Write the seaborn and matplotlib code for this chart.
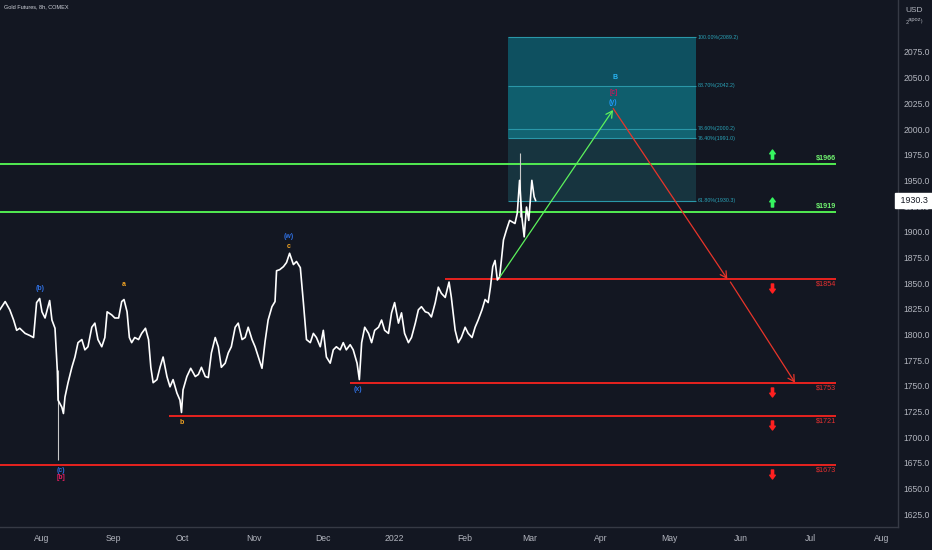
import matplotlib
matplotlib.use("Agg")
import matplotlib.pyplot as plt
from matplotlib.path import Path
from matplotlib.transforms import offset_copy, blended_transform_factory
import seaborn as sns
import pandas as pd
import numpy as np

# ---------------- data ----------------
dates = [
    "2021-07-13 16:00", "2021-07-16 00:00", "2021-07-18 00:00", "2021-07-19 16:00", "2021-07-21 00:00",
    "2021-07-22 08:00", "2021-07-24 16:00", "2021-07-26 16:00", "2021-07-28 08:00", "2021-07-29 16:00",
    "2021-07-31 00:00", "2021-08-01 00:00", "2021-08-02 08:00", "2021-08-04 08:00", "2021-08-05 08:00",
    "2021-08-06 16:00", "2021-08-07 16:00", "2021-08-08 00:00", "2021-08-09 16:00", "2021-08-10 08:00",
    "2021-08-11 00:00", "2021-08-12 08:00", "2021-08-14 00:00", "2021-08-15 08:00", "2021-08-16 16:00",
    "2021-08-18 08:00", "2021-08-19 16:00", "2021-08-21 00:00", "2021-08-22 16:00", "2021-08-24 00:00",
    "2021-08-25 08:00", "2021-08-27 00:00", "2021-08-28 08:00", "2021-08-29 08:00", "2021-08-31 08:00",
    "2021-09-01 16:00", "2021-09-03 08:00", "2021-09-04 16:00", "2021-09-05 16:00", "2021-09-07 00:00",
    "2021-09-08 00:00", "2021-09-09 00:00", "2021-09-10 08:00", "2021-09-12 00:00", "2021-09-13 08:00",
    "2021-09-15 00:00", "2021-09-16 08:00", "2021-09-17 08:00", "2021-09-18 08:00", "2021-09-20 00:00",
    "2021-09-21 08:00", "2021-09-22 16:00", "2021-09-24 08:00", "2021-09-25 16:00", "2021-09-27 00:00",
    "2021-09-28 16:00", "2021-09-30 00:00", "2021-09-30 16:00", "2021-10-01 08:00", "2021-10-03 00:00",
    "2021-10-04 16:00", "2021-10-06 16:00", "2021-10-08 00:00", "2021-10-09 08:00", "2021-10-11 00:00",
    "2021-10-12 08:00", "2021-10-13 16:00", "2021-10-15 08:00", "2021-10-16 16:00", "2021-10-18 00:00",
    "2021-10-19 16:00", "2021-10-21 00:00", "2021-10-22 08:00", "2021-10-24 00:00", "2021-10-25 08:00",
    "2021-10-27 00:00", "2021-10-28 08:00", "2021-10-29 16:00", "2021-10-31 08:00", "2021-11-01 16:00",
    "2021-11-04 16:00", "2021-11-06 00:00", "2021-11-07 08:00", "2021-11-09 00:00", "2021-11-10 08:00",
    "2021-11-11 00:00", "2021-11-12 08:00", "2021-11-14 00:00", "2021-11-15 08:00", "2021-11-16 16:00",
    "2021-11-18 08:00", "2021-11-19 16:00", "2021-11-21 08:00", "2021-11-22 16:00", "2021-11-24 00:00",
    "2021-11-25 16:00", "2021-11-27 00:00", "2021-11-28 08:00", "2021-11-30 00:00", "2021-12-01 08:00",
    "2021-12-02 16:00", "2021-12-04 08:00", "2021-12-05 16:00", "2021-12-07 00:00", "2021-12-08 16:00",
    "2021-12-10 00:00", "2021-12-11 08:00", "2021-12-13 00:00", "2021-12-14 08:00", "2021-12-16 00:00",
    "2021-12-17 00:00", "2021-12-18 00:00", "2021-12-19 08:00", "2021-12-21 00:00", "2021-12-22 08:00",
    "2021-12-23 16:00", "2021-12-25 08:00", "2021-12-26 16:00", "2021-12-28 00:00", "2021-12-29 16:00",
    "2021-12-31 00:00", "2022-01-01 08:00", "2022-01-03 00:00", "2022-01-04 08:00", "2022-01-05 16:00",
    "2022-01-07 08:00", "2022-01-08 16:00", "2022-01-10 08:00", "2022-01-11 16:00", "2022-01-13 00:00",
    "2022-01-14 16:00", "2022-01-16 00:00", "2022-01-17 08:00", "2022-01-19 00:00", "2022-01-20 08:00",
    "2022-01-21 16:00", "2022-01-23 08:00", "2022-01-25 00:00", "2022-01-26 00:00", "2022-01-27 16:00",
    "2022-01-29 00:00", "2022-01-30 08:00", "2022-02-01 00:00", "2022-02-02 08:00", "2022-02-04 00:00",
    "2022-02-05 08:00", "2022-02-06 16:00", "2022-02-08 08:00", "2022-02-09 16:00", "2022-02-11 00:00",
    "2022-02-12 00:00", "2022-02-13 00:00", "2022-02-14 00:00", "2022-02-15 00:00", "2022-02-16 00:00",
    "2022-02-17 16:00", "2022-02-19 00:00", "2022-02-20 08:00", "2022-02-22 16:00", "2022-02-23 16:00",
    "2022-02-24 16:00", "2022-02-25 16:00", "2022-02-26 16:00", "2022-02-27 16:00", "2022-02-28 16:00",
    "2022-03-02 00:00", "2022-03-03 00:00", "2022-03-03 16:00",
]
closes = [
    1824, 1832, 1824, 1814, 1804, 1806, 1801, 1799, 1797, 1831,
    1835, 1822, 1816, 1833, 1814, 1806, 1765, 1736, 1729, 1723,
    1739, 1753, 1768, 1778, 1792, 1795, 1785, 1788, 1807, 1811,
    1795, 1788, 1797, 1822, 1819, 1816, 1816, 1832, 1834, 1822,
    1797, 1792, 1797, 1795, 1801, 1806, 1795, 1768, 1753, 1756,
    1768, 1778, 1759, 1749, 1756, 1743, 1736, 1724, 1746, 1759,
    1767, 1759, 1761, 1768, 1759, 1758, 1782, 1797, 1788, 1768,
    1772, 1782, 1788, 1807, 1811, 1795, 1797, 1807, 1795, 1788,
    1767, 1793, 1814, 1827, 1832, 1862, 1863, 1866, 1870, 1879,
    1868, 1871, 1865, 1831, 1795, 1792, 1801, 1797, 1788, 1804,
    1778, 1772, 1785, 1788, 1785, 1792, 1785, 1790, 1785, 1772,
    1756, 1792, 1807, 1801, 1792, 1804, 1807, 1814, 1804, 1801,
    1821, 1831, 1811, 1821, 1801, 1792, 1797, 1811, 1824, 1827,
    1822, 1821, 1817, 1831, 1846, 1840, 1836, 1851, 1836, 1804,
    1792, 1797, 1807, 1801, 1797, 1807, 1814, 1824, 1834, 1831,
    1846, 1866, 1872, 1853, 1856, 1892, 1902, 1911, 1908, 1918,
    1950, 1914, 1895, 1924, 1911, 1950, 1934, 1930.3,
]
wick_dates = ["2021-08-08 00:00", "2022-02-24 16:00"]
wick_lows = [1678, 1914]
wick_highs = [1765, 1977]

fib_start = "2022-02-19 14:00"
fib_end = "2022-05-12 07:00"
fib_pcts = ["100.00%", "88.70%", "78.60%", "76.40%", "61.80%"]
fib_prices = [2089.2, 2042.2, 2000.2, 1991.0, 1930.3]
fib_fills = ["#0e5060", "#0f5e6d", "#126472", "#17343f"]

level_prices = [1966, 1919, 1854, 1753, 1721, 1673]
level_starts = ["2021-07-01", "2021-07-01", "2022-01-23 05:00",
                "2021-12-12 22:00", "2021-09-25 05:00", "2021-07-01"]
level_end = "2022-07-12 05:00"
level_dirs = ["up", "up", "down", "down", "down", "down"]
arrow_date = "2022-06-14 12:00"

wave_texts = ["B", "[c]", "(y)", "(b)", "a", "(w)", "c", "(x)", "b", "(c)", "[b]"]
wave_dates = ["2022-04-07 02:00", "2022-04-06 12:00", "2022-04-06 08:00", "2021-07-31 03:00",
              "2021-09-05 16:00", "2021-11-16 10:00", "2021-11-16 10:00", "2021-12-16 10:00",
              "2021-09-30 21:00", "2021-08-09 06:00", "2021-08-09 06:00"]
wave_prices = [2049.7, 2036.0, 2025.7, 1845.0, 1849.0, 1895.0, 1886.0, 1746.8, 1714.6, 1667.9, 1661.0]
wave_colors = ["#29b6f6", "#c2185b", "#2196f3", "#2f6fe0", "#f5a623", "#2f6fe0", "#f5a623",
               "#2f6fe0", "#f5a623", "#2f6fe0", "#e91e63"]

proj_dates = [["2022-02-16 03:00", "2022-04-06 07:00"],
              ["2022-04-06 09:00", "2022-05-26 00:00"],
              ["2022-05-27 08:00", "2022-06-24 10:00"]]
proj_prices = [[1856, 2018.5], [2020.0, 1854], [1851, 1753]]
proj_colors = ["#5cf25c", "#e8352a", "#e8352a"]

month_ticks = ["2021-08-01", "2021-09-01", "2021-10-01", "2021-11-01", "2021-12-01", "2022-01-01",
               "2022-02-01", "2022-03-01", "2022-04-01", "2022-05-01", "2022-06-01", "2022-07-01",
               "2022-08-01"]
month_labels = ["Aug", "Sep", "Oct", "Nov", "Dec", "2022", "Feb", "Mar", "Apr", "May", "Jun", "Jul", "Aug"]
price_ticks = list(range(1625, 2076, 25))
last_price = 1930.3

# ---------------- style ----------------
BG = "#131722"
TXT = "#b2b5be"
sns.set_style("dark", {"axes.facecolor": BG, "figure.facecolor": BG})
plt.rcParams["font.family"] = ["Liberation Sans Narrow", "Liberation Sans", "DejaVu Sans"]

fig = plt.figure(figsize=(9.32, 5.5), dpi=100)
ax = fig.add_axes([0, 23 / 550, 898 / 932, 527 / 550])
ax.set_facecolor(BG)

# fib box
fx = pd.to_datetime([fib_start, fib_end])
for i in range(len(fib_prices) - 1):
    ax.fill_between(fx, fib_prices[i + 1], fib_prices[i], color=fib_fills[i], lw=0, zorder=1)
ax.hlines(fib_prices, fx[0], fx[1], color="#2a97a8", lw=0.8, zorder=1.5)
tr_fib = offset_copy(ax.transData, fig=fig, x=2, y=0, units="dots")
for p, lab in zip(fib_prices, fib_pcts):
    ax.text(fx[1], p, f"{lab}({p:.1f})", transform=tr_fib, fontsize=3.8, color="#2aa3b8",
            ha="left", va="center", zorder=5)

# horizontal levels
up_path = Path([(0, 1), (0.62, 0.15), (0.25, 0.15), (0.25, -1), (-0.25, -1), (-0.25, 0.15),
                (-0.62, 0.15), (0, 1)], [Path.MOVETO] + [Path.LINETO] * 6 + [Path.CLOSEPOLY])
dn_path = Path([(x, -y) for x, y in up_path.vertices], up_path.codes)
lend = pd.Timestamp(level_end)
adate = pd.Timestamp(arrow_date)
for p, s, d in zip(level_prices, level_starts, level_dirs):
    col = "#52ec52" if d == "up" else "#e8231f"
    ax.hlines(p, pd.Timestamp(s), lend, color=col, lw=1.4, zorder=2)
    if d == "up":
        tr = offset_copy(ax.transData, fig=fig, x=0, y=2, units="dots")
        ax.text(lend, p, f"${p}", transform=tr, ha="right", va="bottom", fontsize=5.2,
                color="#6ff06f", fontweight="bold", zorder=5)
        tra = offset_copy(ax.transData, fig=fig, x=0, y=10, units="dots")
        ax.plot([adate], [p], marker=up_path, markersize=6.5, color="#36f560", ls="none",
                transform=tra, zorder=5)
    else:
        tr = offset_copy(ax.transData, fig=fig, x=0, y=-2, units="dots")
        ax.text(lend, p, f"${p}", transform=tr, ha="right", va="top", fontsize=5.2,
                color="#e53030", zorder=5)
        tra = offset_copy(ax.transData, fig=fig, x=0, y=-9, units="dots")
        ax.plot([adate], [p], marker=dn_path, markersize=6.5, color="#ff2020", ls="none",
                transform=tra, zorder=5)

# price series
px = pd.to_datetime(dates)
ax.vlines(pd.to_datetime(wick_dates), wick_lows, wick_highs, color="#c8c8c8", lw=0.8, zorder=3)
sns.lineplot(x=px, y=closes, ax=ax, color="white", lw=1.2, sort=False, zorder=4)

# projection arrows
for dd, pp, c in zip(proj_dates, proj_prices, proj_colors):
    d0, d1 = pd.to_datetime(dd)
    ax.annotate("", xy=(d1, pp[1]), xytext=(d0, pp[0]),
                arrowprops=dict(arrowstyle="->,head_length=0.45,head_width=0.25", color=c,
                                lw=0.9, shrinkA=0, shrinkB=0), zorder=4)

# wave labels
for t, d, p, c in zip(wave_texts, wave_dates, wave_prices, wave_colors):
    ax.text(pd.Timestamp(d), p, t, color=c, fontsize=5, ha="center", va="center",
            fontweight="bold", zorder=6)

# axes
ax.set_xlim(pd.Timestamp("2021-07-13 18:00"), pd.Timestamp("2022-08-08 05:00"))
ax.set_ylim(1612.5, 2125.6)
ax.yaxis.tick_right()
ax.set_yticks(price_ticks)
ax.set_yticklabels([f"{v:.1f}" for v in price_ticks])
ax.set_xticks(pd.to_datetime(month_ticks))
ax.set_xticklabels(month_labels)
ax.tick_params(axis="both", length=0, colors=TXT, labelsize=6.2)
ax.tick_params(axis="y", pad=4)
ax.tick_params(axis="x", pad=5)
ax.grid(False)
ax.set_xlabel("")
ax.set_ylabel("")
for side in ["top", "left"]:
    ax.spines[side].set_visible(False)
for side in ["right", "bottom"]:
    ax.spines[side].set_visible(True)
    ax.spines[side].set_color("#363a45")
    ax.spines[side].set_linewidth(1)

# last price tag
btr = blended_transform_factory(ax.transAxes, ax.transData)
ax.text(1.0, last_price, f" {last_price:.1f} ", transform=btr, ha="left", va="center",
        fontsize=6.4, color="#131722", zorder=10, clip_on=False,
        bbox=dict(boxstyle="square,pad=0.3", fc="white", ec="white"))

# header texts
fig.text(4 / 932, 1 - 7 / 550, "Gold Futures, 8h, COMEX", fontsize=4, color="#d1d4dc",
         ha="left", va="center")
fig.text(914 / 932, 1 - 10 / 550, "USD", fontsize=6, color=TXT, ha="center", va="center")
fig.text(914 / 932, 1 - 21 / 550, "₂ᵃᵖᵒᶻ₎", fontsize=6, color=TXT, ha="center", va="center")

fig.savefig("out.png", dpi=100, facecolor=BG)
